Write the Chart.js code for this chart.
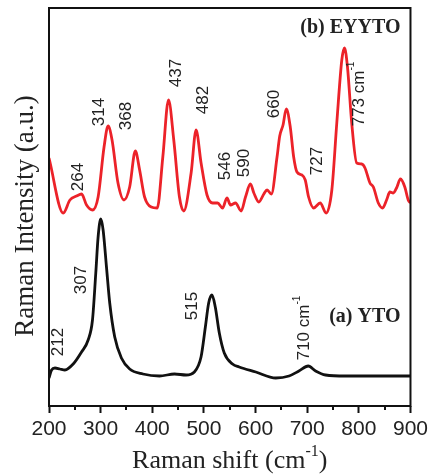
<!DOCTYPE html>
<html>
<head>
<meta charset="utf-8">
<script src="https://cdn.jsdelivr.net/npm/chart.js@4/dist/chart.umd.min.js"></script>
<style>
  body { margin: 0; background: #fff; }
  #wrap { width: 432px; height: 475px; }
</style>
</head>
<body>
<div id="wrap"><canvas id="ramanChart" width="432" height="475"></canvas></div>
<script>
// (b) EYYTO spectrum, red
var shiftB = [200, 227.6, 240.5, 253.4, 263.1, 272.7, 284.3, 295.1, 306.6, 314.4, 322.1, 333.6, 345.2, 356.2, 367.2, 375.5,
  385.1, 398, 409.6, 420.4, 431.4, 441.6, 452.6, 460.9, 475.2, 484.8, 494.5, 506, 516.8, 526.5, 536.1, 544.6, 551.5,
  561.2, 572.2, 580.5, 590.1, 596.7, 606.3, 616, 622.3, 630.6, 641.6, 646.8, 653.2, 659.5, 667.2, 673.8, 680.2, 689.8,
  696.2, 702.7, 712.4, 725.1, 736.7, 747.7, 757.3, 767, 772.2, 778, 786.2, 795.9, 805.5, 811.9, 821.5, 828.1, 837.7,
  846, 853.7, 860.1, 866.6, 873, 880.7, 889, 895.6, 900];
var intensityB = [248, 193, 206, 210, 212, 201, 196, 209, 259, 280, 266, 223, 206, 219, 255, 236,
  209, 199, 198, 249, 306, 266, 209, 195, 233, 276, 243, 211, 203, 203, 198, 208, 201,
  203, 195, 209, 222, 213, 204, 212, 216, 212, 249, 270, 281, 297, 279, 249, 234, 231,
  226, 209, 198, 203, 193, 216, 283, 346, 358, 339, 283, 243, 242, 238, 223, 219, 203,
  198, 206, 214, 213, 218, 227, 219, 206, 203];

// (a) YTO spectrum, black
var shiftA = [200, 205, 211.6, 221, 230.9, 246.9, 263, 275.8, 284.2, 290.6, 295.1, 300.3, 304.8, 311.3, 317.6, 327.3,
  340.2, 356.2, 381.9, 414, 443, 465.5, 481.5, 494.4, 502.8, 509.2, 515.6, 522, 529.8, 539.4, 555.4, 568.3,
  600.5, 639.1, 664.8, 684, 702, 716.2, 735.5, 774.1, 825.4, 900];
var intensityA = [28, 36, 38, 37, 36, 42, 54, 66, 86, 133, 169, 187, 176, 139, 103, 69,
  48, 37, 32, 30, 32, 31, 34, 49, 79, 103, 111, 99, 73, 53, 42, 39,
  34, 28, 30, 35, 40, 35, 31, 30, 30, 30];

var xTicks = [200, 300, 400, 500, 600, 700, 800, 900];
var minorTicks = [250, 350, 450, 550, 650, 750, 850];

// peak labels: text, superscript, x and y where the label is centred (data units)
var peakTextB = ['264', '314', '368', '437', '482', '546', '590', '660', '727', '773 cm'];
var peakSupB  = ['', '', '', '', '', '', '', '', '', '-1'];
var peakXB    = [256.5, 298, 350, 446, 499, 541, 578, 636, 719, 800];
var peakYB    = [229, 294, 290, 333, 306, 240, 243, 302, 245, 312];

var peakTextA = ['212', '307', '515', '710 cm'];
var peakSupA  = ['', '', '', '-1'];
var peakXA    = [218, 263, 477, 694];
var peakYA    = [64, 126, 100, 78];

function toPoints(xs, ys) {
  return xs.map(function (x, i) { return { x: x, y: ys[i] }; });
}

// rotated label with optional superscript, centred on (cx, cy)
function drawRotated(ctx, cx, cy, text, sup, size) {
  ctx.save();
  ctx.translate(cx, cy);
  ctx.rotate(-Math.PI / 2);
  ctx.font = size + 'px "Liberation Sans", Arial, sans-serif';
  var w1 = ctx.measureText(text).width;
  var supSize = Math.round(size * 0.6);
  ctx.font = supSize + 'px "Liberation Sans", Arial, sans-serif';
  var w2 = sup ? ctx.measureText(sup).width : 0;
  var start = -(w1 + w2) / 2;
  ctx.textBaseline = 'middle';
  ctx.textAlign = 'left';
  ctx.font = size + 'px "Liberation Sans", Arial, sans-serif';
  ctx.fillText(text, start, 0);
  if (sup) {
    ctx.font = supSize + 'px "Liberation Sans", Arial, sans-serif';
    ctx.fillText(sup, start + w1, -size * 0.42);
  }
  ctx.restore();
}

var decorPlugin = {
  id: 'decor',
  afterDraw: function (chart) {
    var ctx = chart.ctx;
    var a = chart.chartArea;
    var xs = chart.scales.x, ys = chart.scales.y;

    // frame
    ctx.save();
    ctx.strokeStyle = '#111';
    ctx.lineWidth = 2;
    ctx.strokeRect(a.left, a.top, a.right - a.left, a.bottom - a.top);

    // minor ticks
    ctx.beginPath();
    minorTicks.forEach(function (v) {
      var px = Math.round(xs.getPixelForValue(v));
      ctx.moveTo(px, a.bottom);
      ctx.lineTo(px, a.bottom + 4);
    });
    ctx.stroke();
    ctx.restore();

    // peak labels
    ctx.save();
    ctx.fillStyle = '#222';
    peakTextB.forEach(function (t, i) {
      drawRotated(ctx, xs.getPixelForValue(peakXB[i]), ys.getPixelForValue(peakYB[i]), t, peakSupB[i], 17);
    });
    peakTextA.forEach(function (t, i) {
      drawRotated(ctx, xs.getPixelForValue(peakXA[i]), ys.getPixelForValue(peakYA[i]), t, peakSupA[i], 17);
    });

    // sample names
    ctx.font = 'bold 20px "Liberation Serif", "Times New Roman", serif';
    ctx.textAlign = 'right';
    ctx.textBaseline = 'middle';
    ctx.fillText('(b) EYYTO', a.right - 10, 28);
    ctx.fillText('(a) YTO', a.right - 10, 317);

    // x title
    ctx.textBaseline = 'alphabetic';
    ctx.textAlign = 'left';
    var fMain = '26px "Liberation Serif", "Times New Roman", serif';
    var fSup = '16px "Liberation Serif", "Times New Roman", serif';
    ctx.font = fMain;
    var p1 = 'Raman shift (cm', p3 = ')';
    var w1 = ctx.measureText(p1).width, w3 = ctx.measureText(p3).width;
    ctx.font = fSup;
    var w2 = ctx.measureText('-1').width;
    var sx = (a.left + a.right) / 2 - (w1 + w2 + w3) / 2;
    ctx.font = fMain;
    ctx.fillText(p1, sx, 468);
    ctx.font = fSup;
    ctx.fillText('-1', sx + w1, 456);
    ctx.font = fMain;
    ctx.fillText(p3, sx + w1 + w2, 468);

    // y title
    ctx.save();
    ctx.translate(33, 216);
    ctx.rotate(-Math.PI / 2);
    ctx.font = '27px "Liberation Serif", "Times New Roman", serif';
    ctx.textAlign = 'center';
    ctx.fillText('Raman Intensity (a.u.)', 0, 0);
    ctx.restore();
    ctx.restore();
  }
};

var ctxRaman = document.getElementById('ramanChart').getContext('2d');
var ramanChart = new Chart(ctxRaman, {
  type: 'line',
  data: {
    datasets: [{
      label: '(b) EYYTO',
      data: toPoints(shiftB, intensityB),
      borderColor: '#ec2229',
      borderWidth: 2.8,
      pointRadius: 0,
      cubicInterpolationMode: 'monotone',
      fill: false
    }, {
      label: '(a) YTO',
      data: toPoints(shiftA, intensityA),
      borderColor: '#111111',
      borderWidth: 2.8,
      pointRadius: 0,
      cubicInterpolationMode: 'monotone',
      fill: false
    }]
  },
  options: {
    responsive: false,
    animation: false,
    layout: { padding: { left: 49, right: 20, top: 8, bottom: 0 } },
    plugins: {
      legend: { display: false },
      tooltip: { enabled: false }
    },
    scales: {
      x: {
        type: 'linear',
        min: 200,
        max: 900,
        afterBuildTicks: function (scale) {
          scale.ticks = xTicks.map(function (v) { return { value: v }; });
        },
        afterFit: function (scale) { scale.height = 69; },
        border: { display: false },
        grid: {
          drawOnChartArea: false,
          drawTicks: true,
          tickLength: 7,
          tickWidth: 2,
          tickColor: '#111'
        },
        ticks: {
          color: '#222',
          padding: 4,
          maxRotation: 0,
          font: { family: '"Liberation Sans", Arial, sans-serif', size: 21 }
        }
      },
      y: {
        display: false,
        min: 0,
        max: 398
      }
    }
  },
  plugins: [decorPlugin]
});
</script>
</body>
</html>
